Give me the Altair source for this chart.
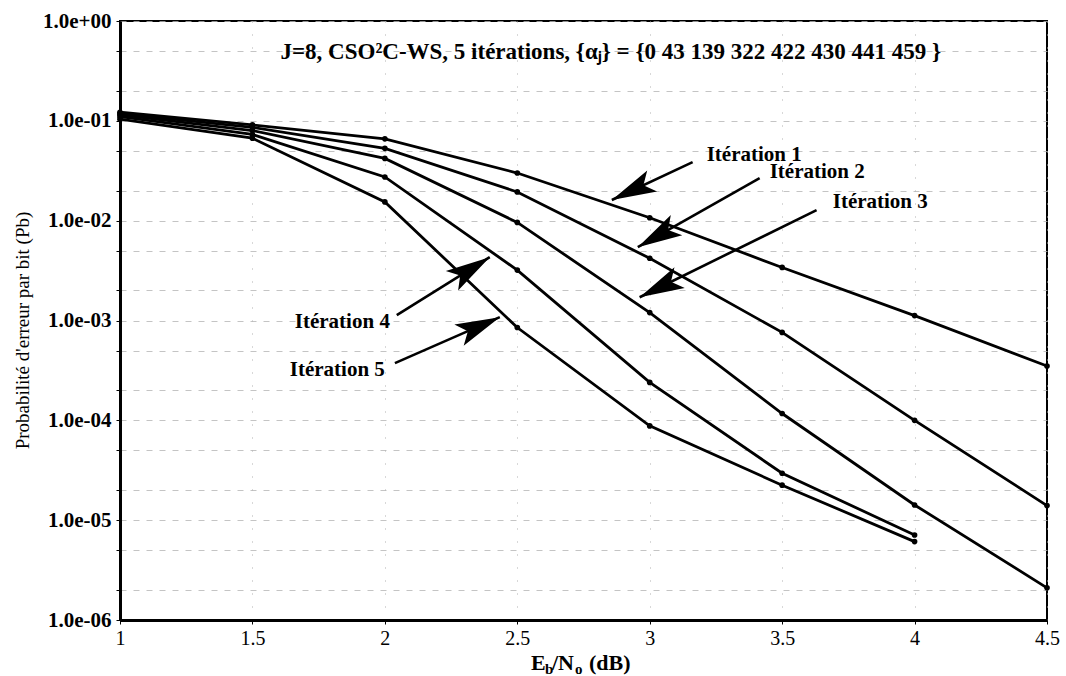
import math
import altair as alt
import pandas as pd

# ---------------- data ----------------
eb_no = [1.0, 1.5, 2.0, 2.5, 3.0, 3.5, 4.0, 4.5]
iter1 = [0.122, 0.091, 0.066, 0.030, 0.0107, 0.0034, 0.00112, 0.00035]
iter2 = [0.118, 0.086, 0.053, 0.0194, 0.0042, 0.00076, 0.000100, 0.0000140]
iter3 = [0.115, 0.080, 0.042, 0.0096, 0.0012, 0.000117, 0.0000142, 0.0000021]
iter4 = [0.110, 0.073, 0.0274, 0.0032, 0.00024, 0.0000295, 0.0000071]
iter5 = [0.104, 0.067, 0.0154, 0.00085, 0.000088, 0.0000224, 0.0000061]
series_names = ["Itération 1", "Itération 2", "Itération 3", "Itération 4", "Itération 5"]

x_ticks = [1, 1.5, 2, 2.5, 3, 3.5, 4, 4.5]
y_ticks = [1e-6, 2e-6, 5e-6, 1e-5, 2e-5, 5e-5, 1e-4, 2e-4, 5e-4,
           1e-3, 2e-3, 5e-3, 1e-2, 2e-2, 5e-2, 1e-1, 2e-1, 5e-1, 1.0]

# annotation arrows: start (x, y) -> tip (x, y), in data units
arrow_x0 = [3.162, 3.415, 3.630, 2.045, 2.038]
arrow_y0 = [0.0386, 0.0267, 0.01276, 0.00113, 0.000374]
arrow_x1 = [2.857, 2.955, 2.962, 2.396, 2.434]
arrow_y1 = [0.0161, 0.00543, 0.00171, 0.00431, 0.00108]

# annotation labels
label_x = [3.215, 3.453, 3.691, 2.019, 2.000]
label_y = [0.0454, 0.0307, 0.01535, 0.000964, 0.000318]
label_align = ["left", "left", "left", "right", "right"]

title_text = "J=8, CSO²C-WS, 5 itérations, {αⱼ} = {0 43 139 322 422 430 441 459 }"
title_x = [2.853]
title_y = [0.489]

# ---------------- layout ----------------
PLOT_W, PLOT_H = 927, 599
X_DOM = [1, 4.5]
Y_DOM = [1e-6, 1]
SERIF = "Liberation Serif"

rows = []
for name, vals in zip(series_names, [iter1, iter2, iter3, iter4, iter5]):
    for x, v in zip(eb_no, vals):
        rows.append({"snr": x, "pb": v, "serie": name})
df = pd.DataFrame(rows)


def screen_angle(x0, y0, x1, y1):
    dx = (x1 - x0) / (X_DOM[1] - X_DOM[0]) * PLOT_W
    dy = -(math.log10(y1) - math.log10(y0)) / 6.0 * PLOT_H
    return math.degrees(math.atan2(dx, -dy)) % 360


arrows = pd.DataFrame({
    "x0": arrow_x0, "y0": arrow_y0, "x1": arrow_x1, "y1": arrow_y1,
    "ang": [screen_angle(a, b, c, d) for a, b, c, d in zip(arrow_x0, arrow_y0, arrow_x1, arrow_y1)],
})
labels = pd.DataFrame({"x": label_x, "y": label_y, "t": series_names, "al": label_align})
title_df = pd.DataFrame({"x": title_x, "y": title_y, "t": [title_text]})

x_scale = alt.Scale(domain=X_DOM, nice=False, zero=False)
y_scale = alt.Scale(type="log", domain=Y_DOM, nice=False)

y_label_expr = (
    "abs(log(datum.value)/LN10 - round(log(datum.value)/LN10)) < 0.001 ? "
    "(datum.value >= 0.999 ? '1.0e+00' : '1.0e-0' + round(-log(datum.value)/LN10)) : ''"
)

x_enc = alt.X(
    "snr:Q", scale=x_scale,
    axis=alt.Axis(values=x_ticks, labelExpr="'' + datum.value", title=None,
                  grid=True, gridColor="#b0b0b0", gridDash=[1, 12], gridWidth=1,
                  domainWidth=3, domainColor="black", tickColor="black", tickSize=4,
                  labelFont=SERIF, labelFontSize=20, labelColor="black", labelPadding=4,
                  labelFlush=False),
)
y_enc = alt.Y(
    "pb:Q", scale=y_scale,
    axis=alt.Axis(values=y_ticks, labelExpr=y_label_expr,
                  title="Probabilité d'erreur par bit (Pb)",
                  titleFont=SERIF, titleFontSize=19, titleFontWeight="normal", titleColor="black",
                  titleX=-98, titleY=309, titleAngle=270, titleAlign="center", titleBaseline="middle",
                  grid=True, gridColor="#b5b5b5", gridDash=[6, 7], gridWidth=0.8,
                  domainWidth=3, domainColor="black", tickColor="black", tickSize=4,
                  labelFont=SERIF, labelFontSize=21, labelFontWeight="bold",
                  labelColor="black", labelPadding=5),
)

lines = alt.Chart(df).mark_line(color="black", strokeWidth=2.8).encode(
    x=x_enc, y=y_enc, detail="serie:N"
)
pts = alt.Chart(df).mark_circle(color="black", size=32, opacity=1).encode(
    x="snr:Q", y="pb:Q"
)

shafts = alt.Chart(arrows).mark_rule(color="black", strokeWidth=2.6).encode(
    x=alt.X("x0:Q", scale=x_scale), y=alt.Y("y0:Q", scale=y_scale),
    x2="x1:Q", y2="y1:Q",
)
heads = alt.Chart(arrows).mark_point(
    shape="M0,0 L0.6,2.3 L0,1.8 L-0.6,2.3 Z", filled=True, color="black",
    size=1500, opacity=1, strokeWidth=0,
).encode(
    x=alt.X("x1:Q", scale=x_scale), y=alt.Y("y1:Q", scale=y_scale),
    angle=alt.Angle("ang:Q", scale=None),
)

lab_left = alt.Chart(labels).transform_filter("datum.al == 'left'").mark_text(
    align="left", baseline="middle", font=SERIF, fontSize=21, fontWeight="bold", color="black"
).encode(x=alt.X("x:Q", scale=x_scale), y=alt.Y("y:Q", scale=y_scale), text="t:N")
lab_right = alt.Chart(labels).transform_filter("datum.al == 'right'").mark_text(
    align="right", baseline="middle", font=SERIF, fontSize=21, fontWeight="bold", color="black"
).encode(x=alt.X("x:Q", scale=x_scale), y=alt.Y("y:Q", scale=y_scale), text="t:N")

title_mark = alt.Chart(title_df).mark_text(
    align="center", baseline="middle", font=SERIF, fontSize=23, fontWeight="bold", color="black"
).encode(x=alt.X("x:Q", scale=x_scale), y=alt.Y("y:Q", scale=y_scale), text="t:N")

# x-axis title with subscripts: E_b/N_o (dB)
xt_parts = [
    ("E", 411, 649, 22), ("b", 425, 653, 15), ("/N", 432, 649, 22),
    ("o", 455, 653, 15), ("(dB)", 469, 649, 22),
]
xt_layers = [
    alt.Chart(pd.DataFrame({"t": [t]})).mark_text(
        align="left", baseline="alphabetic", font=SERIF, fontSize=fs, fontWeight="bold", color="black"
    ).encode(x=alt.value(px), y=alt.value(py), text="t:N")
    for t, px, py, fs in xt_parts
]

chart = alt.layer(lines, pts, shafts, heads, lab_left, lab_right, title_mark, *xt_layers).properties(
    width=PLOT_W, height=PLOT_H,
    autosize=alt.AutoSizeParams(type="none"),
    padding={"left": 120, "top": 21, "right": 19, "bottom": 56},
    background="white",
).configure_view(stroke="black", strokeWidth=2)

chart.save("out.html", embed_options={"renderer": "svg", "actions": False})
